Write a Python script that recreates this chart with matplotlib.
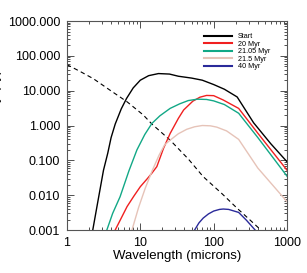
import matplotlib
matplotlib.use('Agg')
import matplotlib.pyplot as plt

# ── Data (log-log axes) ──
wl_star = [1.0, 1.5, 2.3, 3.9, 6.6, 11.0, 14.4, 25.5, 45.0, 72.0, 130.0, 209.0, 300.0, 440.0]
flux_star = [56.0, 36.0, 22.0, 10.2, 4.8, 2.0, 1.1, 0.38, 0.11, 0.034, 0.011, 0.0042, 0.0021, 0.001]

wl_start = [2.25, 2.6, 3.15, 3.6, 4.0, 4.55, 5.5, 6.5, 8.0, 10.0, 13.0, 17.7, 25.0, 33.0, 50.0,
            70.0, 100.0, 140.0, 209.0, 350.0, 600.0, 1000.0]
flux_start = [0.001, 0.0055, 0.052, 0.16, 0.45, 1.1, 3.0, 6.0, 12.0, 20.0, 27.0, 31.0, 30.0,
              26.0, 23.0, 20.0, 15.0, 11.0, 6.6, 1.2, 0.3, 0.091]

wl_20 = [4.55, 5.5, 6.6, 8.2, 10.0, 12.5, 14.4, 16.8, 20.7, 25.5, 33.0, 39.0, 52.0, 65.0,
         80.0, 100.0, 135.0, 219.0, 400.0, 1000.0]
flux_20 = [0.001, 0.0022, 0.0047, 0.0095, 0.0175, 0.03, 0.043, 0.066, 0.22, 0.59, 1.6,
           2.8, 5.0, 6.5, 7.3, 7.2, 5.4, 3.1, 0.6, 0.052]

wl_2105 = [3.5, 4.2, 5.3, 7.0, 9.0, 11.5, 14.4, 18.5, 25.5, 34.5, 45.0, 60.0, 80.0, 100.0,
           140.0, 219.0, 400.0, 1000.0]
flux_2105 = [0.001, 0.003, 0.009, 0.05, 0.2, 0.55, 1.15, 1.9, 3.1, 4.2, 5.2, 5.7, 5.6, 5.1,
             4.0, 2.25, 0.45, 0.035]

wl_215 = [7.7, 9.5, 11.7, 14.5, 18.0, 21.5, 25.5, 33.0, 43.0, 55.0, 70.0, 90.0, 110.0, 150.0,
          219.0, 400.0, 1000.0]
flux_215 = [0.001, 0.0045, 0.016, 0.05, 0.14, 0.28, 0.38, 0.58, 0.78, 0.92, 1.0, 0.98, 0.9,
            0.7, 0.4, 0.06, 0.0065]

wl_40 = [55.0, 63.0, 72.0, 85.0, 100.0, 120.0, 135.0, 160.0, 219.0, 280.0, 367.0]
flux_40 = [0.001, 0.0016, 0.0022, 0.0029, 0.0035, 0.0039, 0.004, 0.0039, 0.0032, 0.0019, 0.001]

series = [
    ('Start',     wl_start, flux_start, 'black'),
    ('20 Myr',    wl_20,    flux_20,    '#f02020'),
    ('21.05 Myr', wl_2105,  flux_2105,  '#12a886'),
    ('21.5 Myr',  wl_215,   flux_215,   '#e6c3b8'),
    ('40 Myr',    wl_40,    flux_40,    '#2a2a9a'),
]

yticks = [0.001, 0.01, 0.1, 1, 10, 100, 1000]
ytick_labels = ['0.001', '0.010', '0.100', '1.000', '10.000', '100.000', '1000.000']
xticks = [1, 10, 100, 1000]
xtick_labels = ['1', '10', '100', '1000']

# ── Style ──
plt.rcParams.update({
    'font.family': 'Liberation Sans',
    'font.size': 9,
})

fig = plt.figure(figsize=(3.07, 2.73), dpi=100)
ax = fig.add_axes([0.218, 0.1575, 0.717, 0.7655])

ax.plot(wl_star, flux_star, color='black', linewidth=0.8, linestyle=(0, (4, 3)))
for label, x, y, c in series:
    ax.plot(x, y, color=c, linewidth=1.0, label=label)

ax.set_xscale('log')
ax.set_yscale('log')
ax.set_xlim(1, 1000)
ax.set_ylim(0.001, 1000)
ax.set_xticks(xticks)
ax.set_xticklabels(xtick_labels)
ax.set_yticks(yticks)
ax.set_yticklabels(ytick_labels)
ax.tick_params(which='both', direction='in', top=True, right=True, colors='#333333',
               labelcolor='black', width=0.6, pad=5)
ax.tick_params(which='major', length=5)
ax.tick_params(which='minor', length=2.5)
for s in ax.spines.values():
    s.set_color('#555555')
    s.set_linewidth(0.8)

ax.set_xlabel('Wavelength (microns)', fontsize=9.5, labelpad=1)
# y label sits mostly off the left edge, as in the original
fig.text(-0.012, 0.57, 'Flux density (Jy)', rotation=90, fontsize=9.5,
         ha='center', va='center')

leg = ax.legend(loc='upper right', bbox_to_anchor=(0.945, 0.965), fontsize=5.2,
                frameon=False, handlelength=3.9, handletextpad=0.7,
                labelspacing=0.05, borderpad=0.2)
for h in leg.get_lines():
    h.set_linewidth(1.5)

fig.savefig('out.png', dpi=100)
